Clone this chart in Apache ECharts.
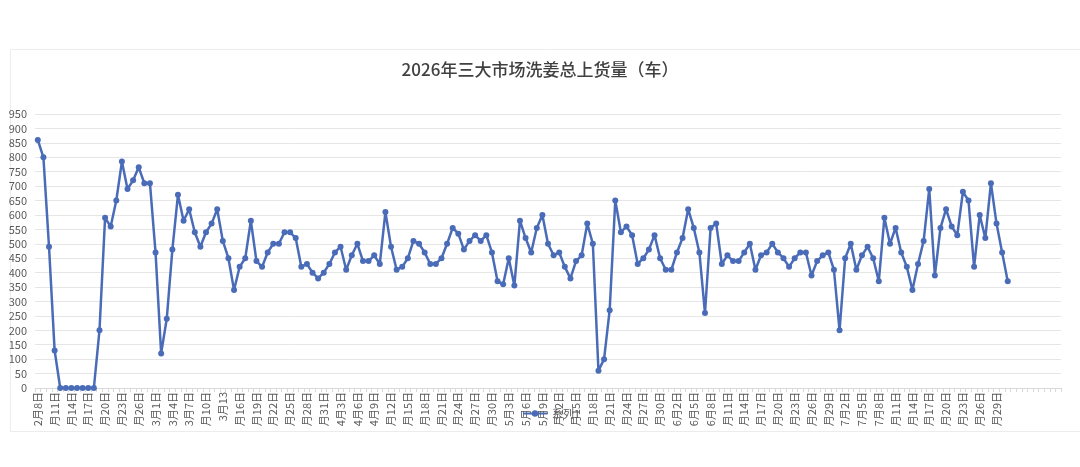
<!DOCTYPE html>
<html>
<head>
<meta charset="utf-8">
<style>
html,body{margin:0;padding:0;background:#fff;}
#chart{width:1080px;height:467px;}
</style>
<script src="https://cdn.jsdelivr.net/npm/echarts@6/dist/echarts.min.js"></script>
</head>
<body>
<div id="chart"></div>
<script>
var titleText = '2026年三大市场洗姜总上货量（车）';
var seriesName = '系列1';

var categories = [
'2月8日','2月9日','2月10日','2月11日','2月12日','2月13日','2月14日','2月15日','2月16日','2月17日','2月18日','2月19日','2月20日','2月21日','2月22日','2月23日','2月24日','2月25日','2月26日','2月27日','2月28日',
'3月1日','3月2日','3月3日','3月4日','3月5日','3月6日','3月7日','3月8日','3月9日','3月10日','3月11日','3月12日','3月13日','3月14日','3月15日','3月16日','3月17日','3月18日','3月19日','3月20日','3月21日','3月22日','3月23日','3月24日','3月25日','3月26日','3月27日','3月28日','3月29日','3月30日','3月31日',
'4月1日','4月2日','4月3日','4月4日','4月5日','4月6日','4月7日','4月8日','4月9日','4月10日','4月11日','4月12日','4月13日','4月14日','4月15日','4月16日','4月17日','4月18日','4月19日','4月20日','4月21日','4月22日','4月23日','4月24日','4月25日','4月26日','4月27日','4月28日','4月29日','4月30日',
'5月1日','5月2日','5月3日','5月4日','5月5日','5月6日','5月7日','5月8日','5月9日','5月10日','5月11日','5月12日','5月13日','5月14日','5月15日','5月16日','5月17日','5月18日','5月19日','5月20日','5月21日','5月22日','5月23日','5月24日','5月25日','5月26日','5月27日','5月28日','5月29日','5月30日','5月31日',
'6月1日','6月2日','6月3日','6月4日','6月5日','6月6日','6月7日','6月8日','6月9日','6月10日','6月11日','6月12日','6月13日','6月14日','6月15日','6月16日','6月17日','6月18日','6月19日','6月20日','6月21日','6月22日','6月23日','6月24日','6月25日','6月26日','6月27日','6月28日','6月29日','6月30日',
'7月1日','7月2日','7月3日','7月4日','7月5日','7月6日','7月7日','7月8日','7月9日','7月10日','7月11日','7月12日','7月13日','7月14日','7月15日','7月16日','7月17日','7月18日','7月19日','7月20日','7月21日','7月22日','7月23日','7月24日','7月25日','7月26日','7月27日','7月28日','7月29日','7月30日','7月31日',
'','','','','','','','',''
];

var values = [
860,800,490,130,0,0,0,0,0,0,0,200,590,560,650,785,690,720,765,710,710,
470,120,240,480,670,580,620,540,490,540,570,620,510,450,340,420,450,580,440,420,470,500,500,540,540,520,420,430,400,380,400,
430,470,490,410,460,500,440,440,460,430,610,490,410,420,450,510,500,470,430,430,450,500,555,535,480,510,530,510,530,470,
370,360,450,355,580,520,470,555,600,500,460,470,420,380,440,460,570,500,60,100,270,650,540,560,530,430,450,480,530,450,410,
410,470,520,620,555,470,260,555,570,430,460,440,440,470,500,410,460,470,500,470,450,420,450,470,470,390,440,460,470,410,
200,450,500,410,460,490,450,370,590,500,555,470,420,340,430,510,690,390,555,620,560,530,680,650,420,600,520,710,570,470,370
];

var tickLabels = [
'2月8日','月11日','月14日','月17日','月20日','月23日','月26日','3月1日','3月4日','3月7日','月10日','3月13','月16日','月19日','月22日','月25日','月28日','月31日',
'4月3日','4月6日','4月9日','月12日','月15日','月18日','月21日','月24日','月27日','月30日',
'5月3日','5月6日','5月9日','月12日','月15日','月18日','月21日','月24日','月27日','月30日',
'6月2日','6月5日','6月8日','月11日','月14日','月17日','月20日','月23日','月26日','月29日',
'7月2日','7月5日','7月8日','月11日','月14日','月17日','月20日','月23日','月26日','月29日'
];

var chart = echarts.init(document.getElementById('chart'));
var FONT = '"Noto Sans CJK SC", "Noto Sans", sans-serif';
chart.setOption({
  backgroundColor: '#ffffff',
  animation: false,
  textStyle: { fontFamily: FONT },
  graphic: [{
    type: 'rect', left: 8, top: 47, z: -10,
    shape: { width: 1070, height: 382 },
    style: { fill: 'none', stroke: '#ececec', lineWidth: 1 }
  }],
  title: {
    text: titleText, left: 'center', top: 56,
    textStyle: { fontSize: 17, fontWeight: 500, color: '#404040', fontFamily: FONT }
  },
  legend: {
    data: [seriesName], left: 517, top: 403,
    itemWidth: 24, itemHeight: 8, itemGap: 4,
    textStyle: { fontSize: 11, color: '#595959', fontFamily: FONT }
  },
  grid: { left: 35, right: 19, top: 114, bottom: 79, containLabel: false },
  xAxis: {
    type: 'category', data: categories, boundaryGap: true,
    axisLine: { lineStyle: { color: '#d9d9d9', width: 1 } },
    axisTick: { show: true, interval: 0, length: 4, lineStyle: { color: '#d9d9d9' } },
    axisLabel: {
      interval: 2, rotate: 90, margin: 4, fontSize: 11, color: '#595959', fontFamily: FONT,
      formatter: function (v, i) { var k = i / 3; return tickLabels[k] !== undefined ? tickLabels[k] : ''; }
    },
    splitLine: { show: false }
  },
  yAxis: {
    type: 'value', min: 0, max: 950, interval: 50,
    axisLine: { show: false }, axisTick: { show: false },
    axisLabel: { fontSize: 11, color: '#595959', margin: 8, fontFamily: FONT },
    splitLine: { lineStyle: { color: '#e6e6e6', width: 1 } }
  },
  series: [{
    name: seriesName, type: 'line', data: values,
    symbol: 'circle', symbolSize: 6, showAllSymbol: true,
    lineStyle: { color: '#4a6cb8', width: 2.5 },
    itemStyle: { color: '#4a6cb8' }
  }]
});
</script>
</body>
</html>
